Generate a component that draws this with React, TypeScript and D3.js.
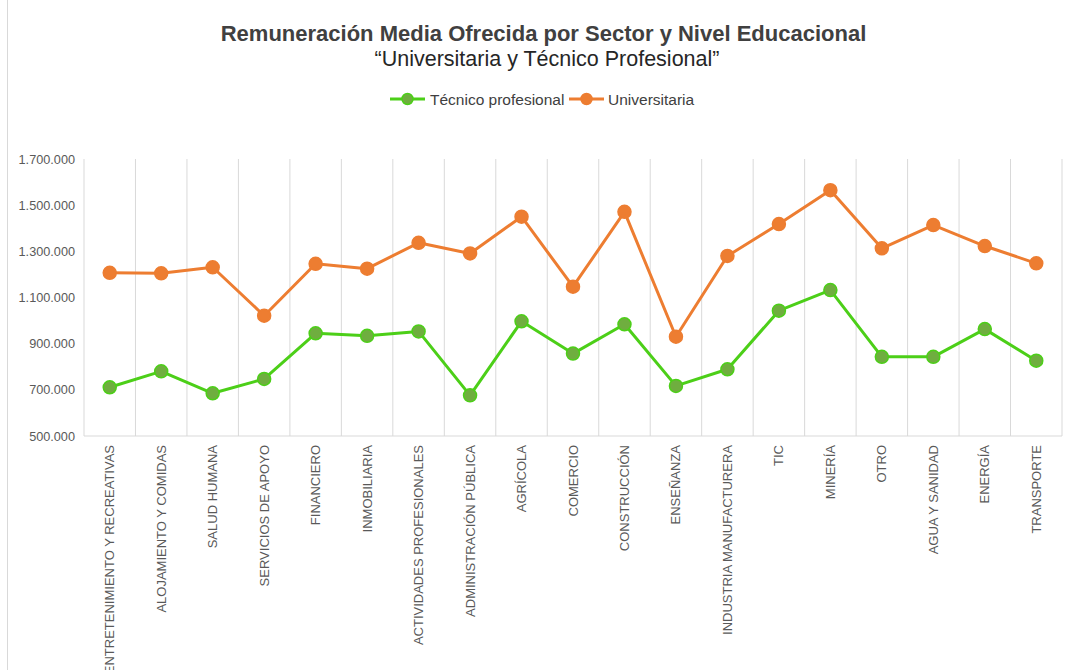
import React from "react";
import * as d3 from "d3";

const categories = [
  "ENTRETENIMIENTO Y RECREATIVAS",
  "ALOJAMIENTO Y COMIDAS",
  "SALUD HUMANA",
  "SERVICIOS DE APOYO",
  "FINANCIERO",
  "INMOBILIARIA",
  "ACTIVIDADES PROFESIONALES",
  "ADMINISTRACIÓN PÚBLICA",
  "AGRÍCOLA",
  "COMERCIO",
  "CONSTRUCCIÓN",
  "ENSEÑANZA",
  "INDUSTRIA MANUFACTURERA",
  "TIC",
  "MINERÍA",
  "OTRO",
  "AGUA Y SANIDAD",
  "ENERGÍA",
  "TRANSPORTE",
];

const tecnico = [
  711000, 780000, 685000, 747000, 945000, 934000, 953000, 676000, 997000, 857000,
  984000, 717000, 789000, 1043000, 1132000, 843000, 843000, 963000, 826000,
];

const universitaria = [
  1207000, 1205000, 1231000, 1021000, 1246000, 1225000, 1337000, 1291000, 1450000, 1147000,
  1471000, 930000, 1280000, 1418000, 1565000, 1313000, 1414000, 1323000, 1248000,
];

const yTicks = [500000, 700000, 900000, 1100000, 1300000, 1500000, 1700000];

const W = 1066;
const H = 670;
const left = 84;
const right = 1062;
const top = 159;
const bottom = 436;

const fmt = (v: number) => d3.format(",")(v).replace(/,/g, ".");

export default function App() {
  const x = d3.scaleBand<string>().domain(categories).range([left, right]).padding(0);
  const y = d3.scaleLinear().domain([500000, 1700000]).range([bottom, top]);
  const cx = (c: string) => (x(c) ?? 0) + x.bandwidth() / 2;

  const line = d3
    .line<number>()
    .x((_, i) => cx(categories[i]))
    .y((d) => y(d));

  const font = "'Liberation Sans', Arial, sans-serif";
  const orange = "#ED7D31";
  const greenLine = "#4CCF18";
  const greenFill = "#6FAE3F";

  const boundaries = categories.map((c) => x(c) ?? 0).concat([right]);

  return (
    <svg
      width={W}
      height={H}
      style={{ position: "absolute", left: 0, top: 0, background: "#fff" }}
      fontFamily={font}
    >
      <rect x={0} y={0} width={W} height={H} fill="#fff" />
      <line x1={7.5} x2={7.5} y1={0} y2={H} stroke="#d9d9d9" strokeWidth={1} />

      <text x={543.5} y={41} textAnchor="middle" fontSize={22} fontWeight="bold" fill="#404040">
        Remuneración Media Ofrecida por Sector y Nivel Educacional
      </text>
      <text x={547} y={66} textAnchor="middle" fontSize={21.5} fill="#262626">
        “Universitaria y Técnico Profesional”
      </text>

      {/* Legend */}
      <g>
        <line x1={390} x2={425} y1={99} y2={99} stroke={greenLine} strokeWidth={3} />
        <circle cx={407.5} cy={99} r={5.5} fill={greenFill} stroke={greenLine} strokeWidth={1.5} />
        <text x={430} y={104.5} fontSize={15.5} fill="#404040">
          Técnico profesional
        </text>
        <line x1={569} x2={604} y1={99} y2={99} stroke={orange} strokeWidth={3} />
        <circle cx={586.5} cy={99} r={5.5} fill={orange} stroke={orange} strokeWidth={1.5} />
        <text x={608} y={104.5} fontSize={15.5} fill="#404040">
          Universitaria
        </text>
      </g>

      {/* gridlines */}
      {boundaries.map((b, i) => (
        <line key={i} x1={b} x2={b} y1={top} y2={bottom} stroke="#d9d9d9" strokeWidth={1} />
      ))}
      <line x1={left} x2={right} y1={bottom} y2={bottom} stroke="#d9d9d9" strokeWidth={1} />

      {/* y labels */}
      {yTicks.map((t) => (
        <text key={t} x={75} y={y(t) + 4.5} textAnchor="end" fontSize={12.7} fill="#595959">
          {fmt(t)}
        </text>
      ))}

      {/* x labels */}
      {categories.map((c) => (
        <text
          key={c}
          transform={`translate(${cx(c) + 4.5},${445}) rotate(-90)`}
          textAnchor="end"
          fontSize={13}
          fill="#595959"
        >
          {c}
        </text>
      ))}

      {/* lines */}
      <path d={line(universitaria) ?? ""} fill="none" stroke={orange} strokeWidth={3} strokeLinejoin="round" />
      <path d={line(tecnico) ?? ""} fill="none" stroke={greenLine} strokeWidth={3} strokeLinejoin="round" />

      {universitaria.map((v, i) => (
        <circle key={"u" + i} cx={cx(categories[i])} cy={y(v)} r={6.5} fill={orange} stroke={orange} strokeWidth={1.5} />
      ))}
      {tecnico.map((v, i) => (
        <circle key={"t" + i} cx={cx(categories[i])} cy={y(v)} r={6.5} fill={greenFill} stroke={greenLine} strokeWidth={1.5} />
      ))}
    </svg>
  );
}
